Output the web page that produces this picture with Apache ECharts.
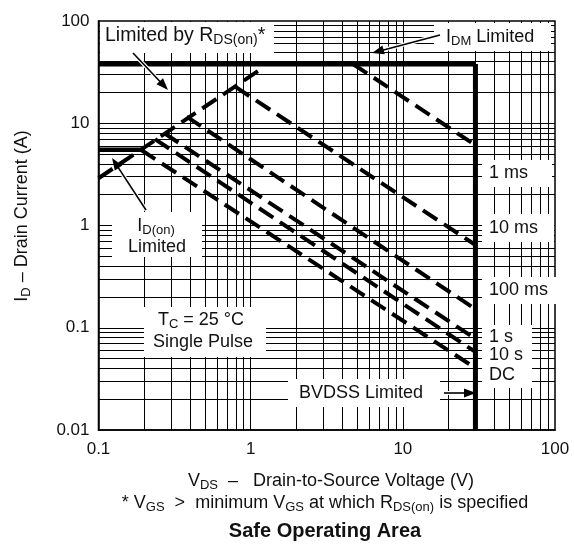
<!DOCTYPE html>
<html><head><meta charset="utf-8">
<script src="https://cdn.jsdelivr.net/npm/echarts@6/dist/echarts.min.js"></script>
<style>html,body{margin:0;padding:0;background:#fff}#c{width:574px;height:544px}</style>
</head><body><div id="c"></div>
<script>
// ---- data ----
const xTickLabels = ['0.1', '1', '10', '100'];
const yTickLabels = ['0.01', '0.1', '1', '10', '100'];
const xMinorGrid = [0.2,0.3,0.4,0.5,0.6,0.7,0.8,0.9,1,2,3,4,5,6,7,8,9,10,20,30,40,50,60,70,80,90];
const yMinorGrid = [0.02,0.03,0.04,0.05,0.06,0.07,0.08,0.09,0.1,0.2,0.3,0.4,0.5,0.6,0.7,0.8,0.9,1,2,3,4,5,6,7,8,9,10,20,30,40,50,60,70,80,90];
const idmV = [0.1, 30];       const idmI = [38, 38];
const bvdssV = [30, 30];      const bvdssI = [38, 0.01];
const idOnV = [0.1, 0.19];    const idOnI = [5.5, 5.5];
const rdsV = [0.1, 1.2];      const rdsI = [2.9, 34.8];
const pulseNames  = ['1 ms', '10 ms', '100 ms', '1 s', '10 s', 'DC'];
const pulseStartV = [4.7, 0.79, 0.38, 0.27, 0.235, 0.19];
const pulseStartI = [38, 22.8, 11.6, 8.0, 7.0, 5.5];
const pulseEndV   = [30, 30, 30, 30, 30, 30];
const pulseEndI   = [6.1, 0.645, 0.152, 0.078, 0.058, 0.0403];

const FONT = '"Liberation Sans", Arial, Helvetica, sans-serif';
const pairs = (a, b) => a.map((v, i) => [v, b[i]]);
const dashStyle = {color: '#000', width: 4, type: [17, 8], cap: 'butt'};

const series = [];
// grid lines via markLine
series.push({
  type: 'line', data: [], z: 1, silent: true,
  markLine: {
    silent: true, symbol: ['none', 'none'], animation: false,
    label: {show: false},
    lineStyle: {color: '#000', width: 1, type: 'solid'},
    emphasis: {disabled: true},
    data: xMinorGrid.map(v => ({xAxis: v})).concat(yMinorGrid.map(v => ({yAxis: v})))
  }
});
series.push({type: 'line', data: pairs(rdsV, rdsI), showSymbol: false, z: 3, lineStyle: dashStyle, silent: true});
pulseNames.forEach((n, i) => {
  series.push({name: n, type: 'line', showSymbol: false, z: 3, silent: true,
    data: [[pulseStartV[i], pulseStartI[i]], [pulseEndV[i], pulseEndI[i]]], lineStyle: dashStyle});
});
series.push({type: 'line', data: pairs(idmV, idmI), showSymbol: false, z: 4, silent: true, lineStyle: {color: '#000', width: 5}});
series.push({type: 'line', data: pairs(bvdssV, bvdssI), showSymbol: false, z: 4, silent: true, lineStyle: {color: '#000', width: 5}});
series.push({type: 'line', data: pairs(idOnV, idOnI), showSymbol: false, z: 4, silent: true, lineStyle: {color: '#000', width: 4.5}});

const rich = {
  n: {fontSize: 18, lineHeight: 22, fontFamily: FONT, color: '#111'},
  s: {fontSize: 13, lineHeight: 12, fontFamily: FONT, color: '#111', verticalAlign: 'bottom'},
  N: {fontSize: 19.5, lineHeight: 23, fontFamily: FONT, color: '#111'},
  S: {fontSize: 14, lineHeight: 12, fontFamily: FONT, color: '#111', verticalAlign: 'bottom'}
};
function txt(x, y, text, align, extra) {
  return Object.assign({type: 'text', x: x, y: y, z: 101, silent: true,
    style: {text: text, rich: rich, align: align || 'left', textAlign: align || 'left',
      verticalAlign: 'middle', textVerticalAlign: 'middle', fill: '#111', font: '18px ' + FONT}}, extra || {});
}
function box(x, y, w, h) {
  return {type: 'rect', z: 100, silent: true, shape: {x: x, y: y, width: w, height: h}, style: {fill: '#fff'}};
}
function arrow(x1, y1, x2, y2) {
  const a = Math.atan2(y2 - y1, x2 - x1), L = 12, W = 4.5;
  const c = Math.cos(a), s = Math.sin(a);
  const bx = x2 - L * c, by = y2 - L * s;
  return [
    {type: 'line', z: 101, silent: true, shape: {x1: x1, y1: y1, x2: bx, y2: by}, style: {stroke: '#fff', lineWidth: 4}},
    {type: 'line', z: 102, silent: true, shape: {x1: x1, y1: y1, x2: bx + 2 * c, y2: by + 2 * s}, style: {stroke: '#000', lineWidth: 1.6}},
    {type: 'polygon', z: 102, silent: true, shape: {points: [[x2, y2], [bx - W * s, by + W * c], [bx + W * s, by - W * c]]}, style: {fill: '#000'}}
  ];
}

const graphics = [
  box(100, 22, 174, 31), box(434, 23, 117, 28), box(482, 160, 70, 27), box(482, 214, 72, 28),
  box(482, 277, 74, 27), box(482, 325, 50, 63), box(112, 212, 90, 45), box(144, 307, 122, 50),
  box(288, 379, 152, 28),
  txt(105, 36, '{N|Limited by R}{S|DS(on)}{N|*}'),
  txt(446, 37, '{n|I}{s|DM}{n| Limited}'),
  txt(489, 173, '{n|' + pulseNames[0] + '}'),
  txt(489, 228, '{n|' + pulseNames[1] + '}'),
  txt(489, 290, '{n|' + pulseNames[2] + '}'),
  txt(489, 337, '{n|' + pulseNames[3] + '}'),
  txt(489, 355, '{n|' + pulseNames[4] + '}'),
  txt(489, 375, '{n|' + pulseNames[5] + '}'),
  txt(156, 226, '{n|I}{s|D(on)}', 'center'),
  txt(157, 247, '{n|Limited}', 'center'),
  txt(201, 320, '{n|T}{s|C}{n| = 25 °C}', 'center'),
  txt(203, 342, '{n|Single Pulse}', 'center'),
  txt(299, 393, '{n|BVDSS Limited}'),
  txt(331, 481, '{n|V}{s|DS}{n|  –   Drain-to-Source Voltage (V)}', 'center'),
  txt(325, 503, '{n|* V}{s|GS}{n|  >  minimum V}{s|GS}{n| at which R}{s|DS(on)}{n| is specified}', 'center'),
  {type: 'text', x: 325, y: 531, z: 101, style: {text: 'Safe Operating Area', align: 'center', textAlign: 'center',
    verticalAlign: 'middle', textVerticalAlign: 'middle', fill: '#111', font: 'bold 20px ' + FONT}},
  txt(22, 216, '{n|I}{s|D}{n| – Drain Current (A)}', 'center', {rotation: Math.PI / 2})
].concat(arrow(133, 53, 168, 90), arrow(440, 35, 372, 53), arrow(146, 210, 112, 158), arrow(444, 393, 476, 393));

const chart = echarts.init(document.getElementById('c'), null, {renderer: 'canvas'});
chart.setOption({
  animation: false,
  backgroundColor: '#fff',
  grid: {left: 98.5, right: 19, top: 21, bottom: 114, show: true, borderColor: '#000', borderWidth: 1.5, backgroundColor: 'transparent', z: 5},
  xAxis: {type: 'log', logBase: 10, min: 0.1, max: 100,
    axisLine: {show: true, lineStyle: {color: '#000', width: 1.5}}, axisTick: {show: false},
    splitLine: {show: false}, minorSplitLine: {show: false},
    axisLabel: {margin: 11, color: '#111', fontSize: 17, fontFamily: FONT,
      formatter: v => xTickLabels[Math.round(Math.log10(v)) + 1]}},
  yAxis: {type: 'log', logBase: 10, min: 0.01, max: 100,
    axisLine: {show: true, lineStyle: {color: '#000', width: 1.5}}, axisTick: {show: false},
    splitLine: {show: false}, minorSplitLine: {show: false},
    axisLabel: {margin: 9, color: '#111', fontSize: 17, fontFamily: FONT,
      formatter: v => yTickLabels[Math.round(Math.log10(v)) + 2]}},
  series: series,
  graphic: {elements: graphics}
});
</script>
</body></html>
